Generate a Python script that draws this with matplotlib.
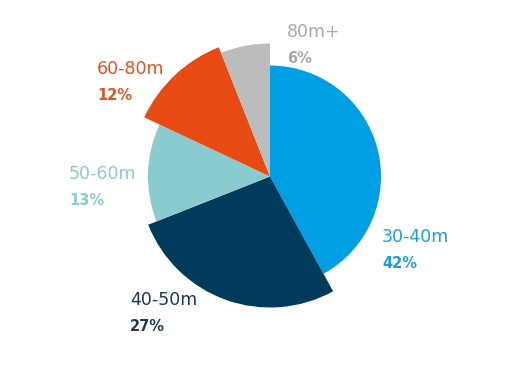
import matplotlib
matplotlib.use("Agg")
import matplotlib.pyplot as plt
from matplotlib.patches import Wedge

categories = ["30-40m", "40-50m", "50-60m", "60-80m", "80m+"]
values = [42, 27, 13, 12, 6]
pct_labels = ["42%", "27%", "13%", "12%", "6%"]

# styling
colors = ["#009FE3", "#003B5C", "#8ACBCF", "#E84A14", "#BCBCBC"]
text_colors = ["#1A9FDD", "#1C3A52", "#8ACBCF", "#E5501E", "#A8A8A8"]
radii = [111, 131, 122, 139, 133]
label_pos = [(382, 242), (130, 305), (69, 179), (97, 74), (287, 37)]
pct_offset = 26

W, H = 511, 376
fig = plt.figure(figsize=(W / 100, H / 100), dpi=100)
ax = fig.add_axes([0, 0, 1, 1])
ax.set_xlim(0, W)
ax.set_ylim(H, 0)
ax.axis("off")

cx, cy = 270, 176.5
total = sum(values)
start = 90.0
angles = []
for v in values:
    span = 360.0 * v / total
    angles.append((start - span, start))
    start -= span

for (a1, a2), r, c in zip(angles, radii, colors):
    # inverted y axis: visual angle theta corresponds to data angle -theta
    w = Wedge((cx, cy), r, -a2, -a1, facecolor=c, edgecolor="none")
    ax.add_patch(w)

for cat, pct, (x, y), tc in zip(categories, pct_labels, label_pos, text_colors):
    ax.text(x, y, cat, color=tc, fontsize=12.5, family="DejaVu Sans",
            va="baseline", ha="left")
    ax.text(x, y + pct_offset, pct, color=tc, fontsize=10.5, family="DejaVu Sans",
            fontweight="bold", va="baseline", ha="left")

fig.savefig("out.png", dpi=100)
